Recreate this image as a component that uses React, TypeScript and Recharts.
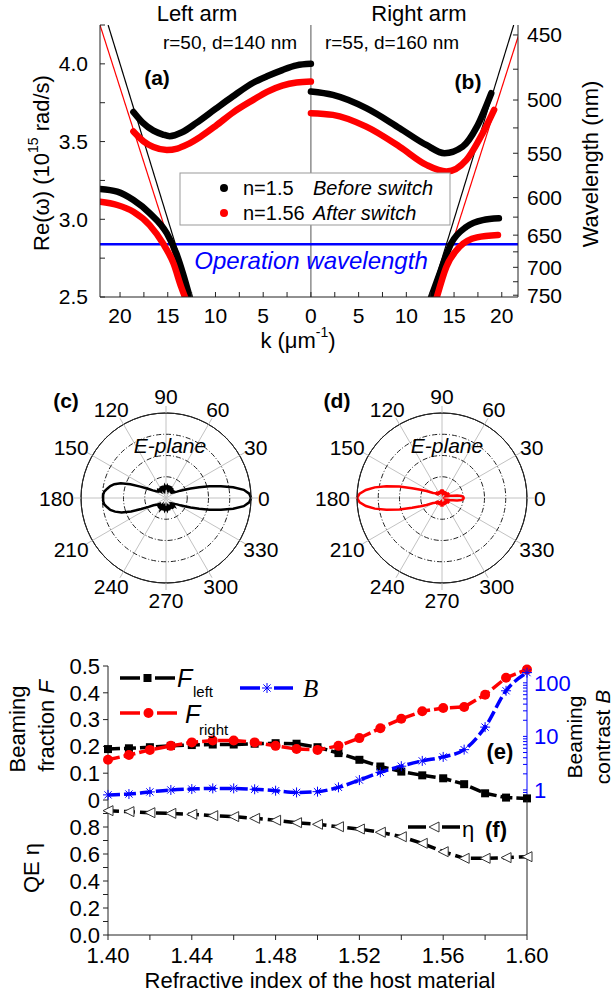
import React from 'react';
import {
  LineChart,
  Line,
  XAxis,
  YAxis,
  ReferenceLine,
  RadarChart,
  Radar,
  PolarGrid,
  PolarAngleAxis,
  PolarRadiusAxis,
} from 'recharts';

const FONT = '"Liberation Sans", Arial, Helvetica, sans-serif';
const SERIF = '"Liberation Serif", "Times New Roman", serif';
const BLUE = '#0000ff';
const RED = '#ff0000';
const AXIS = '#222';

// (a)/(b) dispersion curves, [k (um^-1), Re(w) (1e15 rad/s)]
const leftUpperBefore = [[18.6, 3.69], [17.6, 3.62], [16.5, 3.57], [15.5, 3.545], [14.8, 3.535], [13.5, 3.56], [12.0, 3.62], [10.0, 3.71], [8.2, 3.79], [6.0, 3.88], [4.6, 3.92], [3.0, 3.96], [1.5, 3.99], [0, 4.0]];
const leftUpperAfter = [[18.6, 3.565], [17.5, 3.5], [16.5, 3.465], [15.1, 3.446], [14.0, 3.455], [13.0, 3.48], [11.6, 3.53], [10.0, 3.6], [8.1, 3.69], [6.0, 3.77], [4.6, 3.82], [3.0, 3.86], [1.5, 3.88], [0, 3.886]];
const leftLowerBefore = [[22.1, 3.195], [20.3, 3.178], [18.6, 3.124], [16.9, 3.04], [15.1, 2.91], [14.1, 2.78], [13.4, 2.65], [12.7, 2.5]];
const leftLowerAfter = [[22.1, 3.113], [20.3, 3.092], [18.6, 3.049], [16.9, 2.963], [15.5, 2.845], [14.4, 2.716], [13.6, 2.566], [13.2, 2.5]];
const rightUpperBefore = [[0, 3.822], [2.3, 3.8], [5.8, 3.715], [9.3, 3.586], [12.1, 3.478], [14.0, 3.425], [15.9, 3.467], [17.4, 3.596], [18.9, 3.811]];
const rightUpperAfter = [[0, 3.683], [2.3, 3.672], [5.8, 3.596], [9.3, 3.467], [12.1, 3.35], [14.2, 3.307], [16.3, 3.382], [18.0, 3.554], [19.2, 3.704]];
const rightLowerBefore = [[12.6, 2.5], [13.5, 2.652], [14.7, 2.845], [16.3, 2.952], [18.0, 2.995], [19.7, 3.006]];
const rightLowerAfter = [[13.2, 2.5], [14.2, 2.695], [15.6, 2.824], [17.4, 2.884], [19.6, 2.899]];
const lightLineBefore = [[12.5, 2.5], [21.25, 4.25]];
const lightLineAfter = [[13.0, 2.5], [22.1, 4.25]];
const operationOmega = 2.84;

const kTicks = [-20, -17.5, -15, -12.5, -10, -7.5, -5, -2.5, 0, 2.5, 5, 7.5, 10, 12.5, 15, 17.5, 20];
const omegaTicks = [2.5, 2.75, 3.0, 3.25, 3.5, 3.75, 4.0, 4.25];
const wavelengthTicks = [450, 475, 500, 525, 550, 575, 600, 625, 650, 675, 700, 725, 750];
const OMEGA_NM = 1883.65; // 2*pi*c, in 1e15 rad/s * nm

// (c)/(d) E-plane patterns
const patternAngles = [
  0, 3, 6, 9, 12, 15, 18, 21, 24, 27, 30,
  35, 40, 45, 50, 55, 60, 65, 70, 75, 80, 85, 90, 95, 100, 105, 110, 115, 120, 125, 130, 135, 140, 145,
  150, 153, 156, 159, 162, 165, 168, 171, 174, 177,
  180,
  183, 186, 189, 192, 195, 198, 201, 204, 207, 210,
  215, 220, 225, 230, 235, 240, 245, 250, 255, 260, 265, 270, 275, 280, 285, 290, 295, 300, 305, 310, 315, 320, 325,
  330, 333, 336, 339, 342, 345, 348, 351, 354, 357,
];
const patternBefore = [
  1.0, 0.98, 0.92, 0.8, 0.66, 0.53, 0.41, 0.31, 0.24, 0.19, 0.15,
  0.12, 0.1, 0.13, 0.08, 0.14, 0.09, 0.15, 0.1, 0.15, 0.11, 0.14, 0.12, 0.14, 0.1, 0.15, 0.1, 0.15, 0.09, 0.14, 0.1, 0.13, 0.12, 0.14,
  0.18, 0.24, 0.33, 0.45, 0.56, 0.63, 0.67, 0.7, 0.73, 0.74,
  0.74,
  0.74, 0.73, 0.7, 0.67, 0.62, 0.55, 0.44, 0.32, 0.23, 0.17,
  0.14, 0.11, 0.14, 0.09, 0.15, 0.1, 0.14, 0.11, 0.15, 0.1, 0.14, 0.12, 0.14, 0.1, 0.15, 0.11, 0.14, 0.09, 0.15, 0.1, 0.13, 0.1, 0.12,
  0.15, 0.19, 0.24, 0.31, 0.41, 0.53, 0.66, 0.8, 0.92, 0.98,
];
const patternAfter = [
  0.255, 0.25, 0.23, 0.18, 0.13, 0.1, 0.07, 0.06, 0.05, 0.06, 0.08,
  0.1, 0.05, 0.09, 0.04, 0.08, 0.05, 0.09, 0.05, 0.08, 0.06, 0.1, 0.07, 0.1, 0.06, 0.09, 0.05, 0.08, 0.05, 0.09, 0.05, 0.1, 0.06, 0.1,
  0.12, 0.15, 0.2, 0.27, 0.37, 0.52, 0.67, 0.8, 0.9, 0.97,
  1.0,
  0.97, 0.9, 0.8, 0.67, 0.52, 0.37, 0.27, 0.2, 0.15, 0.12,
  0.1, 0.06, 0.1, 0.05, 0.09, 0.05, 0.08, 0.06, 0.09, 0.06, 0.1, 0.07, 0.1, 0.06, 0.09, 0.05, 0.08, 0.05, 0.09, 0.04, 0.09, 0.05, 0.1,
  0.08, 0.06, 0.05, 0.06, 0.07, 0.1, 0.13, 0.18, 0.23, 0.25,
];
const angleTicks = [0, 30, 60, 90, 120, 150, 180, 210, 240, 270, 300, 330];
const ringValues = [0.25, 0.5, 0.75];

// (e)/(f) vs refractive index
const nValues = [1.40, 1.41, 1.42, 1.43, 1.44, 1.45, 1.46, 1.47, 1.48, 1.49, 1.50, 1.51, 1.52, 1.53, 1.54, 1.55, 1.56, 1.57, 1.58, 1.59, 1.60];
const fLeft = [0.19, 0.193, 0.197, 0.202, 0.205, 0.207, 0.207, 0.21, 0.212, 0.21, 0.197, 0.175, 0.15, 0.125, 0.106, 0.092, 0.081, 0.059, 0.025, 0.009, 0.006];
const fRight = [0.15, 0.168, 0.187, 0.202, 0.215, 0.222, 0.222, 0.215, 0.202, 0.19, 0.187, 0.202, 0.231, 0.268, 0.303, 0.331, 0.343, 0.347, 0.393, 0.456, 0.487];
const contrastB = [0.81, 0.84, 0.92, 1.0, 1.04, 1.07, 1.07, 1.03, 0.97, 0.9, 0.93, 1.12, 1.53, 2.13, 2.78, 3.49, 4.14, 5.66, 14.9, 71, 155];
const quantumEff = [0.921, 0.914, 0.906, 0.901, 0.894, 0.884, 0.877, 0.864, 0.85, 0.832, 0.82, 0.802, 0.785, 0.761, 0.728, 0.679, 0.617, 0.568, 0.568, 0.573, 0.58];

const nTicks = [1.40, 1.42, 1.44, 1.46, 1.48, 1.50, 1.52, 1.54, 1.56, 1.58, 1.60];
const fTicks = [0, 0.1, 0.2, 0.3, 0.4, 0.5];
const bTicks = [0.7, 0.8, 0.9, 1, 2, 3, 4, 5, 6, 7, 8, 9, 10, 20, 30, 40, 50, 60, 70, 80, 90, 100, 200];
const etaTicks = [0, 0.1, 0.2, 0.3, 0.4, 0.5, 0.6, 0.7, 0.8, 0.9];

const toLeft = (pts: number[][]) => pts.map(([k, w]) => ({ x: -k, y: w }));
const toRight = (pts: number[][]) => pts.map(([k, w]) => ({ x: k, y: w }));

function DispersionChart() {
  const curves = [
    { id: 'lub', data: toLeft(leftUpperBefore), color: '#000' },
    { id: 'lua', data: toLeft(leftUpperAfter), color: RED },
    { id: 'llb', data: toLeft(leftLowerBefore), color: '#000' },
    { id: 'lla', data: toLeft(leftLowerAfter), color: RED },
    { id: 'rub', data: toRight(rightUpperBefore), color: '#000' },
    { id: 'rua', data: toRight(rightUpperAfter), color: RED },
    { id: 'rlb', data: toRight(rightLowerBefore), color: '#000' },
    { id: 'rla', data: toRight(rightLowerAfter), color: RED },
  ];
  const light = [
    { id: 'llb-l', data: toLeft(lightLineBefore), color: '#000' },
    { id: 'lla-l', data: toLeft(lightLineAfter), color: RED },
    { id: 'rlb-l', data: toRight(lightLineBefore), color: '#000' },
    { id: 'rla-l', data: toRight(lightLineAfter), color: RED },
  ];
  const tickFont = { fontSize: 21, fill: '#000', fontFamily: FONT };
  return (
    <LineChart width={615} height={360} margin={{ top: 25, right: 0, bottom: 0, left: 0 }}>
      <XAxis
        xAxisId="k"
        type="number"
        dataKey="x"
        domain={[-22.1, 21.7]}
        allowDataOverflow
        ticks={kTicks}
        interval={0}
        tickFormatter={(v: number) => (v % 5 === 0 ? String(Math.abs(v)) : '')}
        height={63}
        tickSize={-5}
        tickMargin={16}
        stroke={AXIS}
        tick={tickFont}
      />
      <XAxis
        xAxisId="top"
        orientation="top"
        type="number"
        dataKey="x"
        domain={[-22.1, 21.7]}
        allowDataOverflow
        ticks={kTicks}
        interval={0}
        height={0}
        tick={false}
        tickSize={-5}
        stroke={AXIS}
      />
      <YAxis
        yAxisId="w"
        type="number"
        domain={[2.5, 4.25]}
        allowDataOverflow
        ticks={omegaTicks}
        interval={0}
        tickFormatter={(v: number) => (Math.round(v * 100) % 50 === 0 ? v.toFixed(1) : '')}
        width={100}
        tickSize={-5}
        tickMargin={17}
        stroke={AXIS}
        tick={tickFont}
      />
      <YAxis
        yAxisId="lambda"
        orientation="right"
        type="number"
        domain={[2.5, 4.25]}
        allowDataOverflow
        ticks={wavelengthTicks.map((l) => OMEGA_NM / l)}
        interval={0}
        tickFormatter={(v: number) => {
          const l = Math.round(OMEGA_NM / v);
          return l % 50 === 0 ? String(l) : '';
        }}
        width={97}
        tickSize={-5}
        tickMargin={14}
        stroke={AXIS}
        tick={tickFont}
      />
      <ReferenceLine xAxisId="k" yAxisId="w" x={0} stroke="#555" strokeWidth={1} />
      <ReferenceLine xAxisId="k" yAxisId="w" y={operationOmega} stroke={BLUE} strokeWidth={2.5} />
      {/* invisible series that keep the frame axes (top, wavelength) drawn */}
      <Line
        xAxisId="top"
        yAxisId="lambda"
        data={toRight(lightLineBefore)}
        dataKey="y"
        stroke="none"
        dot={false}
        activeDot={false}
        legendType="none"
        isAnimationActive={false}
      />
      {light.map((s) => (
        <Line
          key={s.id}
          xAxisId="k"
          yAxisId="w"
          data={s.data}
          dataKey="y"
          type="linear"
          stroke={s.color}
          strokeWidth={1.2}
          dot={false}
          activeDot={false}
          isAnimationActive={false}
        />
      ))}
      {curves.map((s) => (
        <Line
          key={s.id}
          xAxisId="k"
          yAxisId="w"
          data={s.data}
          dataKey="y"
          type="monotone"
          stroke={s.color}
          strokeWidth={6.5}
          strokeLinecap="round"
          dot={false}
          activeDot={false}
          isAnimationActive={false}
        />
      ))}
    </LineChart>
  );
}

const POLAR_R = 85;
const POLAR_CX = 135;
const POLAR_CY = 130;
const POLAR_FONT = 21;

function AngleTick(props: any) {
  const deg = Number(props.payload?.value ?? 0);
  if (deg >= 360) return null;
  const rad = (deg * Math.PI) / 180;
  const label = String(deg);
  const halfW = (label.length * 0.556 * POLAR_FONT) / 2;
  const x = POLAR_CX + Math.cos(rad) * (POLAR_R + 7 + halfW);
  const y = POLAR_CY - Math.sin(rad) * (POLAR_R + 17);
  return (
    <text
      x={x}
      y={y}
      textAnchor="middle"
      dominantBaseline="central"
      fontSize={POLAR_FONT}
      fontFamily={FONT}
      fill="#000"
    >
      {label}
    </text>
  );
}

function PolarPattern({ radii, color }: { radii: number[]; color: string }) {
  const data = patternAngles.map((a, i) => ({ angle: a, r: radii[i] }));
  return (
    <RadarChart
      width={270}
      height={260}
      data={data}
      cx={POLAR_CX}
      cy={POLAR_CY}
      innerRadius={0}
      outerRadius={POLAR_R}
      startAngle={0}
      endAngle={360}
      margin={{ top: 0, right: 0, bottom: 0, left: 0 }}
    >
      <PolarGrid
        gridType="circle"
        polarAngles={angleTicks}
        polarRadius={[POLAR_R]}
        stroke="#c2c2c2"
        strokeWidth={1}
      />
      <PolarGrid
        gridType="circle"
        polarAngles={angleTicks}
        polarRadius={ringValues.map((v) => v * POLAR_R)}
        radialLines={false}
        stroke="#222"
        strokeWidth={1}
        strokeDasharray="5 2 1 2"
      />
      <PolarGrid
        gridType="circle"
        polarAngles={angleTicks}
        polarRadius={[POLAR_R]}
        radialLines={false}
        stroke="#222"
        strokeWidth={1}
      />
      <PolarAngleAxis
        dataKey="angle"
        type="number"
        domain={[0, 360]}
        tickCount={13}
        tick={(p: any) => <AngleTick {...p} />}
        tickSize={7}
        tickLine={{ stroke: '#bbb' }}
        axisLine={{ stroke: '#222' }}
        axisLineType="circle"
      />
      <PolarRadiusAxis domain={[0, 1]} tick={false} axisLine={false} tickCount={5} />
      <Radar
        dataKey="r"
        stroke={color}
        strokeWidth={2.5}
        fill="none"
        fillOpacity={0}
        dot={false}
        isAnimationActive={false}
      />
    </RadarChart>
  );
}

const SquareDot = (p: any) =>
  p.cx == null ? null : <rect key={`sq-${p.index}`} x={p.cx - 4} y={p.cy - 4} width={8} height={8} fill="#000" />;
const CircleDot = (p: any) =>
  p.cx == null ? null : <circle key={`ci-${p.index}`} cx={p.cx} cy={p.cy} r={5} fill={RED} />;
const StarDot = (p: any) => {
  if (p.cx == null) return null;
  const { cx, cy } = p;
  const s = 5;
  const d = 3.6;
  return (
    <g key={`st-${p.index}`} stroke={BLUE} strokeWidth={1}>
      <line x1={cx - s} y1={cy} x2={cx + s} y2={cy} />
      <line x1={cx} y1={cy - s} x2={cx} y2={cy + s} />
      <line x1={cx - d} y1={cy - d} x2={cx + d} y2={cy + d} />
      <line x1={cx - d} y1={cy + d} x2={cx + d} y2={cy - d} />
    </g>
  );
};
const TriangleDot = (p: any) =>
  p.cx == null ? null : (
    <polygon
      key={`tr-${p.index}`}
      points={`${p.cx - 5},${p.cy} ${p.cx + 5},${p.cy - 5} ${p.cx + 5},${p.cy + 5}`}
      fill="#fff"
      stroke="#333"
      strokeWidth={1}
    />
  );

function BeamingChart() {
  const rows = nValues.map((n, i) => ({ n, left: fLeft[i], right: fRight[i], b: contrastB[i] }));
  const tickFont = { fontSize: 22, fill: '#000', fontFamily: FONT };
  return (
    <LineChart width={615} height={180} data={rows} margin={{ top: 26, right: 0, bottom: 20, left: 0 }}>
      <XAxis xAxisId="n" dataKey="n" type="number" domain={[1.4, 1.6]} height={0} tick={false} tickLine={false} stroke={AXIS} />
      <XAxis
        xAxisId="top"
        orientation="top"
        dataKey="n"
        type="number"
        domain={[1.4, 1.6]}
        ticks={nTicks}
        interval={0}
        height={0}
        tick={false}
        tickSize={-5}
        stroke={AXIS}
      />
      <YAxis
        yAxisId="F"
        type="number"
        domain={[0, 0.5]}
        ticks={fTicks}
        interval={0}
        tickFormatter={(v: number) => (v === 0 ? '0' : v.toFixed(1))}
        width={108}
        tickSize={5}
        tickMargin={3}
        stroke={AXIS}
        tick={tickFont}
      />
      <YAxis
        yAxisId="B"
        orientation="right"
        type="number"
        scale="log"
        domain={[0.65, 206]}
        allowDataOverflow
        ticks={bTicks}
        interval={0}
        tickFormatter={(v: number) => (v === 1 || v === 10 || v === 100 ? String(v) : '')}
        width={88}
        tickSize={-4}
        tickMargin={11}
        stroke={BLUE}
        tick={{ ...tickFont, fill: BLUE }}
      />
      <Line
        xAxisId="top"
        yAxisId="F"
        dataKey="left"
        stroke="none"
        dot={false}
        activeDot={false}
        legendType="none"
        isAnimationActive={false}
      />
      <Line
        xAxisId="n"
        yAxisId="F"
        dataKey="left"
        stroke="#000"
        strokeWidth={3.5}
        strokeDasharray="12 4"
        dot={SquareDot}
        activeDot={false}
        isAnimationActive={false}
      />
      <Line
        xAxisId="n"
        yAxisId="F"
        dataKey="right"
        stroke={RED}
        strokeWidth={3.5}
        strokeDasharray="12 4"
        dot={CircleDot}
        activeDot={false}
        isAnimationActive={false}
      />
      <Line
        xAxisId="n"
        yAxisId="B"
        dataKey="b"
        type="monotone"
        stroke={BLUE}
        strokeWidth={3.5}
        strokeDasharray="12 4"
        dot={StarDot}
        activeDot={false}
        isAnimationActive={false}
      />
    </LineChart>
  );
}

function EfficiencyChart() {
  const rows = nValues.map((n, i) => ({ n, eta: quantumEff[i] }));
  const tickFont = { fontSize: 22, fill: '#000', fontFamily: FONT };
  return (
    <LineChart width={615} height={198} data={rows} margin={{ top: 0, right: 0, bottom: 0, left: 0 }}>
      <XAxis
        dataKey="n"
        type="number"
        domain={[1.4, 1.6]}
        ticks={nTicks}
        interval={0}
        tickFormatter={(v: number) => (Math.round(v * 100) % 4 === 0 ? v.toFixed(2) : '')}
        height={63}
        tickSize={5}
        tickMargin={7}
        stroke={AXIS}
        tick={tickFont}
      />
      <YAxis
        type="number"
        domain={[0, 1]}
        ticks={etaTicks}
        interval={0}
        tickFormatter={(v: number) => (Math.round(v * 10) % 2 === 0 ? v.toFixed(1) : '')}
        width={108}
        tickSize={5}
        tickMargin={3}
        stroke={AXIS}
        tick={tickFont}
      />
      <YAxis
        yAxisId="frame"
        orientation="right"
        type="number"
        domain={[0, 1]}
        ticks={etaTicks}
        interval={0}
        width={88}
        tick={false}
        tickSize={-5}
        stroke={AXIS}
      />
      <Line
        yAxisId="frame"
        dataKey="eta"
        stroke="none"
        dot={false}
        activeDot={false}
        legendType="none"
        isAnimationActive={false}
      />
      <Line
        dataKey="eta"
        stroke="#000"
        strokeWidth={3.5}
        strokeDasharray="11 5"
        dot={TriangleDot}
        activeDot={false}
        isAnimationActive={false}
      />
    </LineChart>
  );
}

function Txt({ x, y, size = 21, anchor = 'middle', rotate, children, ...rest }: any) {
  return (
    <text
      x={x}
      y={y}
      fontSize={size}
      textAnchor={anchor}
      dominantBaseline="central"
      fontFamily={FONT}
      fill="#000"
      transform={rotate ? `rotate(${rotate} ${x} ${y})` : undefined}
      {...rest}
    >
      {children}
    </text>
  );
}

function Annotations() {
  return (
    <svg width={615} height={998} style={{ position: 'absolute', left: 0, top: 0, pointerEvents: 'none' }}>
      {/* top panel */}
      <Txt x={197} y={13} size={22}>Left arm</Txt>
      <Txt x={419} y={13} size={22}>Right arm</Txt>
      <Txt x={230} y={42} size={19}>r=50, d=140 nm</Txt>
      <Txt x={392} y={42} size={19}>r=55, d=160 nm</Txt>
      <Txt x={157} y={77} size={21} fontWeight="bold">(a)</Txt>
      <Txt x={468} y={81} size={21} fontWeight="bold">(b)</Txt>
      <rect x={180} y={173} width={270} height={52} fill="#fff" stroke="#999" strokeWidth={1} />
      <circle cx={224} cy={188} r={4} fill="#000" />
      <Txt x={243} y={188} size={20} anchor="start">n=1.5</Txt>
      <Txt x={313} y={188} size={20} anchor="start" fontStyle="italic">Before switch</Txt>
      <circle cx={224} cy={213} r={4} fill={RED} />
      <Txt x={243} y={213} size={20} anchor="start">n=1.56</Txt>
      <Txt x={313} y={213} size={20} anchor="start" fontStyle="italic">After switch</Txt>
      <Txt x={311} y={260} size={24} fontStyle="italic" fill={BLUE}>Operation wavelength</Txt>
      <Txt x={41} y={163} size={22} rotate={-90}>
        Re(ω) (10<tspan dy={-8} fontSize={14}>15</tspan>
        <tspan dy={8}> rad/s)</tspan>
      </Txt>
      <Txt x={590} y={164} size={22} rotate={-90}>Wavelength (nm)</Txt>
      <Txt x={298} y={340} size={22}>
        k (μm<tspan dy={-8} fontSize={14}>-1</tspan>
        <tspan dy={8}>)</tspan>
      </Txt>

      {/* polar panels */}
      <Txt x={66} y={400} size={21} fontWeight="bold">(c)</Txt>
      <Txt x={337} y={400} size={21} fontWeight="bold">(d)</Txt>
      <Txt x={170} y={445} size={21} fontStyle="italic">E-plane</Txt>
      <Txt x={447} y={445} size={21} fontStyle="italic">E-plane</Txt>

      {/* (e) legend */}
      <line x1={120} y1={678} x2={140} y2={678} stroke="#000" strokeWidth={3.5} />
      <line x1={155} y1={678} x2={175} y2={678} stroke="#000" strokeWidth={3.5} />
      <rect x={143.5} y={674} width={8} height={8} fill="#000" />
      <Txt x={177} y={678} size={25} anchor="start" fontStyle="italic">F</Txt>
      <Txt x={193} y={691} size={15} anchor="start">left</Txt>
      <line x1={120} y1={713} x2={140} y2={713} stroke={RED} strokeWidth={3.5} />
      <line x1={157} y1={713} x2={177} y2={713} stroke={RED} strokeWidth={3.5} />
      <circle cx={148.5} cy={713} r={5} fill={RED} />
      <Txt x={185} y={714} size={25} anchor="start" fontStyle="italic">F</Txt>
      <Txt x={199} y={729} size={15} anchor="start">right</Txt>
      <line x1={240} y1={688} x2={260} y2={688} stroke={BLUE} strokeWidth={3.5} />
      <line x1={274} y1={688} x2={293} y2={688} stroke={BLUE} strokeWidth={3.5} />
      <g stroke={BLUE} strokeWidth={1}>
        <line x1={262} y1={688} x2={272} y2={688} />
        <line x1={267} y1={683} x2={267} y2={693} />
        <line x1={263.4} y1={684.4} x2={270.6} y2={691.6} />
        <line x1={263.4} y1={691.6} x2={270.6} y2={684.4} />
      </g>
      <Txt x={303} y={688} size={25} anchor="start" fontStyle="italic" fontFamily={SERIF}>B</Txt>
      <Txt x={500} y={751} size={22} fontWeight="bold">(e)</Txt>

      {/* (f) legend */}
      <line x1={408} y1={827} x2={426} y2={827} stroke="#000" strokeWidth={3.5} />
      <line x1={442} y1={827} x2={460} y2={827} stroke="#000" strokeWidth={3.5} />
      <polygon points="429,827 439,822 439,832" fill="#fff" stroke="#333" strokeWidth={1} />
      <Txt x={462} y={829} size={22} anchor="start">η</Txt>
      <Txt x={485} y={829} size={22} anchor="start" fontWeight="bold">(f)</Txt>

      {/* bottom axis titles */}
      <Txt x={17} y={729} size={22} rotate={-90}>Beaming</Txt>
      <Txt x={46} y={726} size={22} rotate={-90}>
        fraction <tspan fontStyle="italic">F</tspan>
      </Txt>
      <Txt x={31} y={868} size={22} rotate={-90}>QE η</Txt>
      <Txt x={574} y={737} size={21} rotate={-90}>Beaming</Txt>
      <Txt x={602} y={737} size={21} rotate={-90}>
        contrast <tspan fontStyle="italic">B</tspan>
      </Txt>
      <Txt x={320} y={980} size={22}>Refractive index of the host material</Txt>
    </svg>
  );
}

export default function App() {
  return (
    <div
      style={{
        position: 'absolute',
        left: 0,
        top: 0,
        width: 615,
        height: 998,
        background: '#fff',
        overflow: 'hidden',
        fontFamily: FONT,
      }}
    >
      <div style={{ position: 'absolute', left: 0, top: 0 }}>
        <DispersionChart />
      </div>
      <div style={{ position: 'absolute', left: 31, top: 368 }}>
        <PolarPattern radii={patternBefore} color="#000" />
      </div>
      <div style={{ position: 'absolute', left: 307, top: 368 }}>
        <PolarPattern radii={patternAfter} color={RED} />
      </div>
      <div style={{ position: 'absolute', left: 0, top: 640 }}>
        <BeamingChart />
      </div>
      <div style={{ position: 'absolute', left: 0, top: 800 }}>
        <EfficiencyChart />
      </div>
      <Annotations />
    </div>
  );
}
